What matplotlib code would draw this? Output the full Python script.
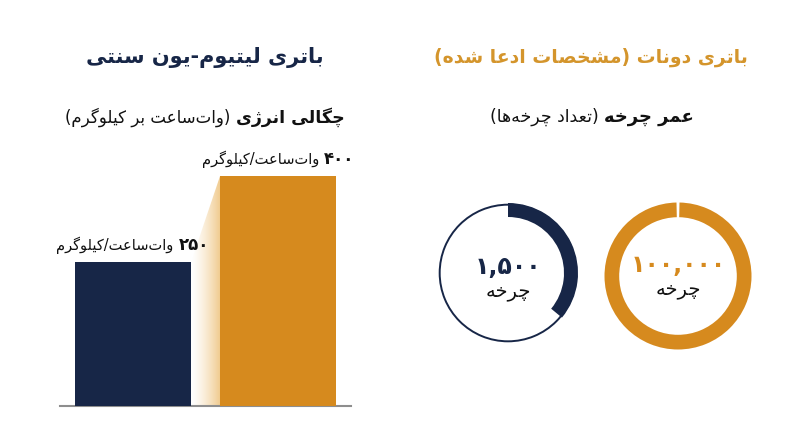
import re
import numpy as np
import matplotlib
matplotlib.use("Agg")
import matplotlib.pyplot as plt
from matplotlib.patches import Polygon

# ---------- Data ----------
TITLES = ["باتری لیتیوم-یون سنتی", "باتری دونات (مشخصات ادعا شده)"]
SUB_LEFT = ["چگالی انرژی", "(وات‌ساعت بر کیلوگرم)"]
SUB_RIGHT = ["عمر چرخه", "(تعداد چرخه‌ها)"]
DENSITY = [250, 400]
DENSITY_LABELS = ["۲۵۰", "۴۰۰"]
UNIT = "وات‌ساعت/کیلوگرم"
CYCLE_LABELS = ["۱,۵۰۰", "۱۰۰,۰۰۰"]
CYCLE_WORD = "چرخه"
RING_SHARE = [0.36, 1.0]   # filled part of each ring

# ---------- Style ----------
NAVY = "#172647"
ORANGE = "#D68A1E"
ORANGE_TITLE = "#D4952C"
GAP = 0.0065

# ---------- Persian shaping (matplotlib has no bidi) ----------
FORMS = {
    "ا": (0xFE8D, 0xFE8E, None, None), "آ": (0xFE81, 0xFE82, None, None),
    "ب": (0xFE8F, 0xFE90, 0xFE91, 0xFE92), "پ": (0xFB56, 0xFB57, 0xFB58, 0xFB59),
    "ت": (0xFE95, 0xFE96, 0xFE97, 0xFE98), "ث": (0xFE99, 0xFE9A, 0xFE9B, 0xFE9C),
    "ج": (0xFE9D, 0xFE9E, 0xFE9F, 0xFEA0), "چ": (0xFB7A, 0xFB7B, 0xFB7C, 0xFB7D),
    "ح": (0xFEA1, 0xFEA2, 0xFEA3, 0xFEA4), "خ": (0xFEA5, 0xFEA6, 0xFEA7, 0xFEA8),
    "د": (0xFEA9, 0xFEAA, None, None), "ذ": (0xFEAB, 0xFEAC, None, None),
    "ر": (0xFEAD, 0xFEAE, None, None), "ز": (0xFEAF, 0xFEB0, None, None),
    "ژ": (0xFB8A, 0xFB8B, None, None), "س": (0xFEB1, 0xFEB2, 0xFEB3, 0xFEB4),
    "ش": (0xFEB5, 0xFEB6, 0xFEB7, 0xFEB8), "ص": (0xFEB9, 0xFEBA, 0xFEBB, 0xFEBC),
    "ض": (0xFEBD, 0xFEBE, 0xFEBF, 0xFEC0), "ط": (0xFEC1, 0xFEC2, 0xFEC3, 0xFEC4),
    "ظ": (0xFEC5, 0xFEC6, 0xFEC7, 0xFEC8), "ع": (0xFEC9, 0xFECA, 0xFECB, 0xFECC),
    "غ": (0xFECD, 0xFECE, 0xFECF, 0xFED0), "ف": (0xFED1, 0xFED2, 0xFED3, 0xFED4),
    "ق": (0xFED5, 0xFED6, 0xFED7, 0xFED8), "ک": (0xFB8E, 0xFB8F, 0xFB90, 0xFB91),
    "گ": (0xFB92, 0xFB93, 0xFB94, 0xFB95), "ل": (0xFEDD, 0xFEDE, 0xFEDF, 0xFEE0),
    "م": (0xFEE1, 0xFEE2, 0xFEE3, 0xFEE4), "ن": (0xFEE5, 0xFEE6, 0xFEE7, 0xFEE8),
    "و": (0xFEED, 0xFEEE, None, None), "ه": (0xFEE9, 0xFEEA, 0xFEEB, 0xFEEC),
    "ی": (0xFBFC, 0xFBFD, 0xFBFE, 0xFBFF),
}
MIRROR = {"(": ")", ")": "("}


def shape(s):
    out = []
    for i, c in enumerate(s):
        if c not in FORMS:
            if c != "\u200c":
                out.append(c)
            continue
        prev = s[i - 1] if i > 0 else None
        nxt = s[i + 1] if i + 1 < len(s) else None
        iso, fin, ini, med = FORMS[c]
        jp = prev in FORMS and FORMS[prev][2] is not None
        jn = nxt in FORMS and ini is not None
        if jp and jn:
            code = med
        elif jp:
            code = fin
        elif jn:
            code = ini
        else:
            code = iso
        out.append(chr(code))
    return "".join(out)


def rtl(s):
    if not any(c in FORMS for c in s):
        return s
    vis = "".join(MIRROR.get(c, c) for c in reversed(shape(s)))
    # digit runs keep their left-to-right order
    return re.sub(r"[0-9۰-۹,]+", lambda m: m.group(0)[::-1], vis)


def text_line(fig, xc, y, pieces, color, gap=5):
    """Lay out (text, weight, size) pieces right-to-left, centred on xc (figure fraction)."""
    r = fig.canvas.get_renderer()
    W = fig.bbox.width
    objs = []
    for txt, weight, size in pieces:
        t = fig.text(0, y, rtl(txt), fontsize=size, fontweight=weight, color=color,
                     ha="right", va="center", family="DejaVu Sans")
        objs.append((t, t.get_window_extent(r).width / W))
    total = sum(w for _, w in objs) + gap / W * (len(objs) - 1)
    x = xc + total / 2
    for t, w in objs:
        t.set_x(x)
        x -= w + gap / W


# ---------- Figure ----------
fig = plt.figure(figsize=(8, 4.47), dpi=100)
fig.patch.set_facecolor("white")
FW, FH = 800, 447

text_line(fig, 205 / FW, 1 - 57 / FH, [(TITLES[0], "bold", 15)], NAVY)
text_line(fig, 591 / FW, 1 - 57 / FH, [(TITLES[1], "bold", 13.5)], ORANGE_TITLE)
text_line(fig, 205 / FW, 1 - 117 / FH,
          [(SUB_LEFT[0], "bold", 12.5), (SUB_LEFT[1], "normal", 12)], "#111111")
text_line(fig, 592 / FW, 1 - 117 / FH,
          [(SUB_RIGHT[0], "bold", 13), (SUB_RIGHT[1], "normal", 12.5)], "#111111")

# ---------- Bars ----------
ax = fig.add_axes([60 / FW, 41 / FH, 291 / FW, 230 / FH])
ax.set_xlim(-0.5, 1.5)
ax.set_ylim(0, max(DENSITY))
bars = ax.bar([0, 1], DENSITY, width=0.8, color=[NAVY, ORANGE], zorder=3)
for s in ["top", "right", "left"]:
    ax.spines[s].set_visible(False)
ax.spines["bottom"].set_color("#8E8E8E")
ax.spines["bottom"].set_linewidth(1.5)
ax.set_xticks([])
ax.set_yticks([])
ax.patch.set_alpha(0)

# gradient connector between the two bars
b0, b1 = bars[0], bars[1]
x0 = b0.get_x() + b0.get_width()
x1 = b1.get_x()
poly = Polygon([(x0, 0), (x0, b0.get_height()), (x1, b1.get_height()), (x1, 0)],
               closed=True, facecolor="none", edgecolor="none")
ax.add_patch(poly)
ramp = np.linspace(0, 1, 256) ** 1.4
grad = np.zeros((2, 256, 4))
grad[..., 0] = 0.94
grad[..., 1] = 0.78
grad[..., 2] = 0.52
grad[..., 3] = ramp * 0.95
im = ax.imshow(grad, extent=[x0, x1, 0, b1.get_height()], aspect="auto",
               origin="lower", zorder=2, interpolation="bicubic")
im.set_clip_path(poly)

fig.canvas.draw()
for b, num in zip(bars, DENSITY_LABELS):
    px, py = ax.transData.transform((b.get_x() + b.get_width() / 2, b.get_height()))
    text_line(fig, px / FW, (py + 17) / FH,
              [(num, "bold", 12), (UNIT, "normal", 10.5)], "#111111")

# ---------- Rings ----------
rings = [(508, 273, 70, NAVY), (678, 276, 73.5, ORANGE)]
num_dy = [0.09, 0.15]
word_dy = [-0.27, -0.19]
for i, (cx, cy, rad, col) in enumerate(rings):
    rax = fig.add_axes([(cx - rad) / FW, (FH - cy - rad) / FH, 2 * rad / FW, 2 * rad / FH])
    rax.set_xlim(-1, 1)
    rax.set_ylim(-1, 1)
    rax.axis("off")
    share = RING_SHARE[i]
    if share < 1:
        rax.pie([1], radius=0.99, colors=[col], startangle=90,
                wedgeprops=dict(width=0.028, linewidth=0))
        rax.pie([share, 1 - share], radius=1.0, colors=[col, "none"], startangle=90,
                counterclock=False, wedgeprops=dict(width=0.2, linewidth=0))
    else:
        rax.pie([share - GAP, GAP], radius=1.0, colors=[col, "none"],
                startangle=90 - GAP * 180, counterclock=False,
                wedgeprops=dict(width=0.2, linewidth=0))
    rax.set_xlim(-1, 1)
    rax.set_ylim(-1, 1)
    rax.text(0, num_dy[i], CYCLE_LABELS[i], ha="center", va="center",
             fontsize=17, fontweight="bold", color=col, family="DejaVu Sans")
    rax.text(0, word_dy[i], rtl(CYCLE_WORD), ha="center", va="center",
             fontsize=14, color="#111111", family="DejaVu Sans")

fig.savefig("out.png", dpi=100, facecolor="white")
